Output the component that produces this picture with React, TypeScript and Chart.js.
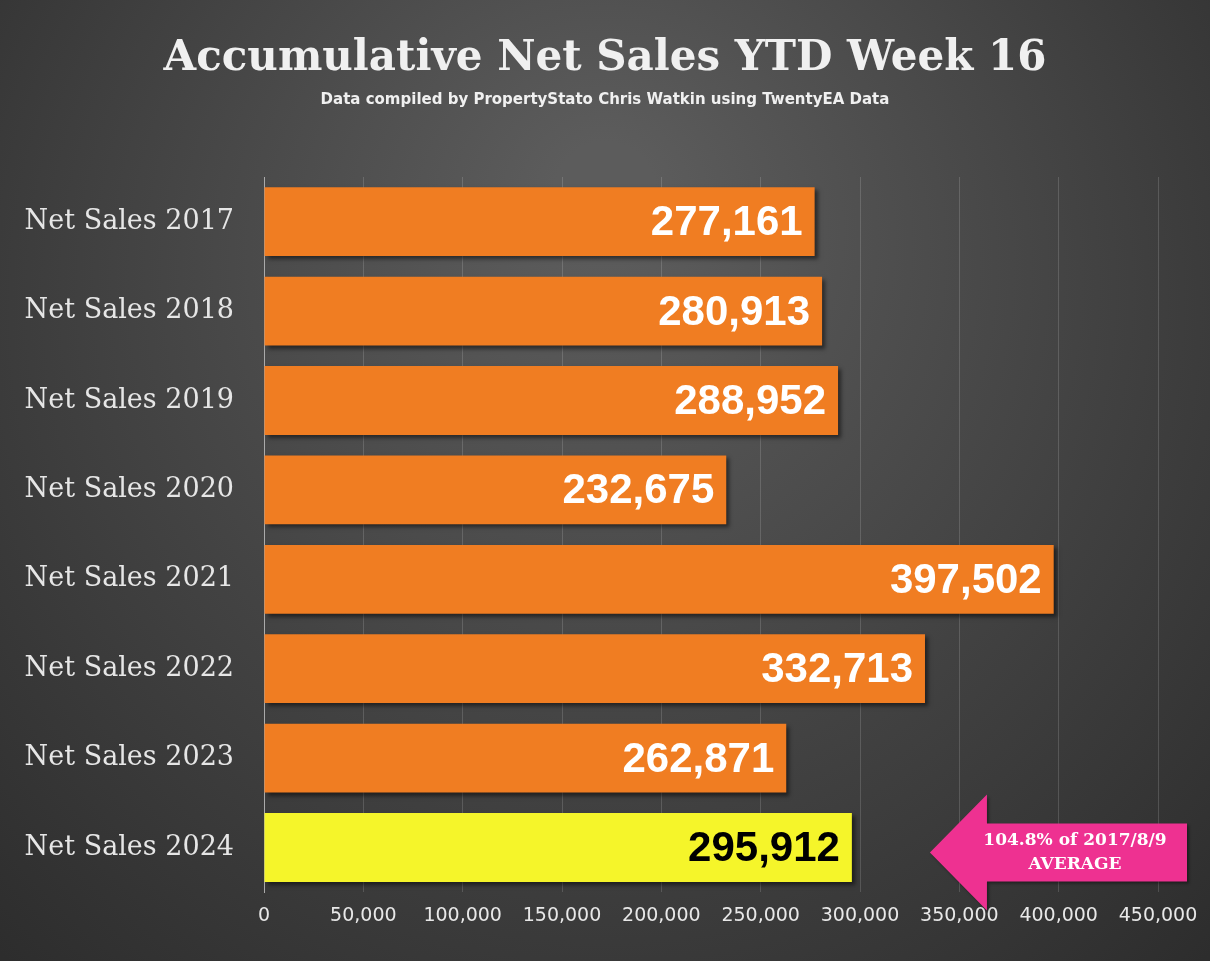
import React, { useEffect, useRef } from "react";
import { Chart, registerables } from "chart.js";
Chart.register(...registerables);

const categories = ["Net Sales 2017", "Net Sales 2018", "Net Sales 2019", "Net Sales 2020", "Net Sales 2021", "Net Sales 2022", "Net Sales 2023", "Net Sales 2024"];
const values = [277161, 280913, 288952, 232675, 397502, 332713, 262871, 295912];
const barColors = ["#f07d22", "#f07d22", "#f07d22", "#f07d22", "#f07d22", "#f07d22", "#f07d22", "#f5f52a"];
const labelColors = ["#ffffff", "#ffffff", "#ffffff", "#ffffff", "#ffffff", "#ffffff", "#ffffff", "#000000"];
const titleText = "Accumulative Net Sales YTD Week 16";
const subtitleText = "Data compiled by PropertyStato Chris Watkin using TwentyEA Data";
const arrowLines = ["104.8% of 2017/8/9", "AVERAGE"];
const arrowRange = [335200, 363900, 464600];

export default function App() {
  const ref = useRef<HTMLCanvasElement>(null);
  useEffect(() => {
    document.body.style.margin = "0";
    const bg = {
      id: "bg",
      beforeDraw(c: any) {
        const { ctx, width, height } = c;
        const g = ctx.createRadialGradient(width * 0.5, height * 0.2, 50, width * 0.5, height * 0.4, width * 0.8);
        g.addColorStop(0, "#5c5c5c");
        g.addColorStop(1, "#262626");
        ctx.save();
        ctx.fillStyle = g;
        ctx.fillRect(0, 0, width, height);
        ctx.textAlign = "center";
        ctx.fillStyle = "#f0f0f0";
        ctx.font = "bold 42px 'DejaVu Serif'";
        ctx.fillText(titleText, width / 2, 70);
        ctx.font = "bold 15px 'DejaVu Sans'";
        ctx.fillText(subtitleText, width / 2, 104);
        ctx.restore();
      },
      beforeDatasetsDraw(c: any) {
        c.ctx.save();
        c.ctx.shadowColor = "rgba(0,0,0,0.5)";
        c.ctx.shadowOffsetX = 3;
        c.ctx.shadowOffsetY = 3;
        c.ctx.shadowBlur = 4;
      },
      afterDatasetsDraw(c: any) {
        const { ctx } = c;
        ctx.restore();
        const meta = c.getDatasetMeta(0);
        ctx.save();
        ctx.font = "bold 42px 'Liberation Sans'";
        ctx.textAlign = "right";
        ctx.textBaseline = "middle";
        meta.data.forEach((b: any, i: number) => {
          ctx.fillStyle = labelColors[i];
          ctx.fillText(values[i].toLocaleString("en-US"), b.x - 12, b.y + 2);
        });
        const xs = c.scales.x, ys = c.scales.y;
        const x0 = xs.getPixelForValue(arrowRange[0]);
        const x1 = xs.getPixelForValue(arrowRange[1]);
        const x2 = xs.getPixelForValue(arrowRange[2]);
        const yc = ys.getPixelForValue(7) + 5;
        const h = 58;
        ctx.fillStyle = "#ee3191";
        ctx.shadowColor = "rgba(0,0,0,0.4)";
        ctx.shadowOffsetX = 2; ctx.shadowOffsetY = 2; ctx.shadowBlur = 3;
        ctx.beginPath();
        ctx.moveTo(x0, yc);
        ctx.lineTo(x1, yc - h);
        ctx.lineTo(x1, yc - h / 2);
        ctx.lineTo(x2, yc - h / 2);
        ctx.lineTo(x2, yc + h / 2);
        ctx.lineTo(x1, yc + h / 2);
        ctx.lineTo(x1, yc + h);
        ctx.closePath();
        ctx.fill();
        ctx.shadowColor = "transparent";
        ctx.fillStyle = "#ffffff";
        ctx.textAlign = "center";
        ctx.font = "bold 17px 'DejaVu Serif'";
        const cx = (x1 + x2) / 2 - 12;
        ctx.fillText(arrowLines[0], cx, yc - 12);
        ctx.fillText(arrowLines[1], cx, yc + 12);
        ctx.restore();
      },
    };
    const chart = new Chart(ref.current!, {
      type: "bar",
      data: {
        labels: categories,
        datasets: [{ data: values, backgroundColor: barColors, categoryPercentage: 0.77, barPercentage: 1 }],
      },
      options: {
        indexAxis: "y",
        animation: false,
        responsive: false,
        layout: { padding: { top: 177, right: 52, bottom: 22, left: 0 } },
        plugins: { legend: { display: false }, tooltip: { enabled: false } },
        scales: {
          x: {
            min: 0, max: 450000,
            ticks: { stepSize: 50000, padding: 12, color: "#e8e8e8", font: { size: 19, family: "'DejaVu Sans'" }, callback: (v: any) => Number(v).toLocaleString("en-US") },
            grid: { color: "rgba(255,255,255,0.15)", drawTicks: false, lineWidth: 1 },
            border: { display: false },
          },
          y: {
            afterFit: (s: any) => { s.width = 264; },
            ticks: { color: "#e6e6e6", font: { size: 27, family: "'DejaVu Serif'" }, padding: 22 },
            grid: { display: false },
            border: { color: "#aaaaaa", width: 1 },
          },
        },
      },
      plugins: [bg],
    });
    return () => chart.destroy();
  }, []);
  return <canvas ref={ref} width={1210} height={961} />;
}
